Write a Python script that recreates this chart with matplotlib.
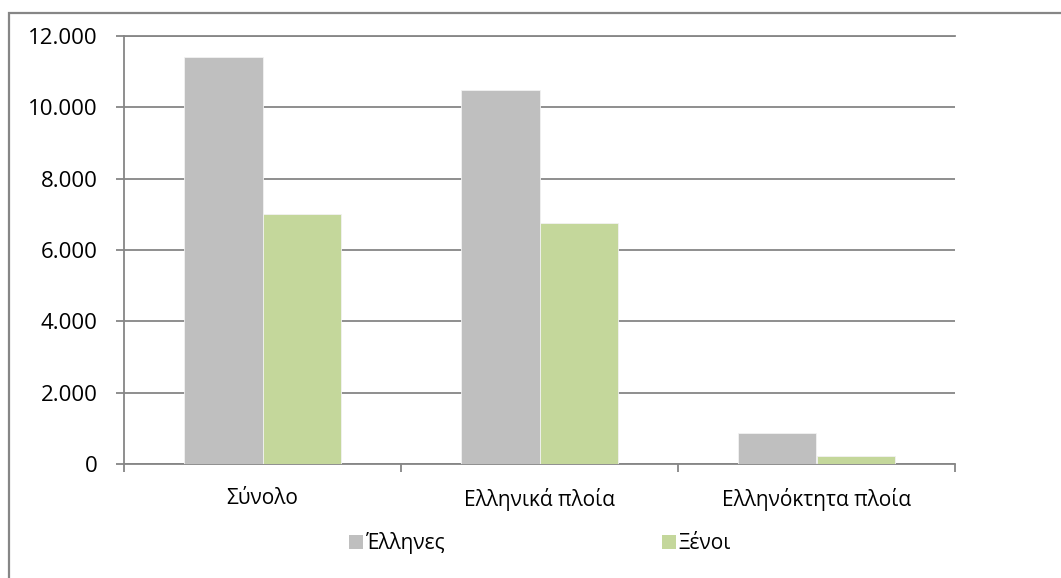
import matplotlib
matplotlib.use('Agg')
import matplotlib.pyplot as plt
from matplotlib.patches import Patch, Rectangle
import numpy as np

plt.rcParams['font.family'] = ['Open Sans', 'DejaVu Sans']

categories = ['Σύνολο', 'Ελληνικά πλοία', 'Ελληνόκτητα πλοία']
greeks = [11400, 10500, 860]
foreigners = [7000, 6750, 225]
series_names = ['Έλληνες', 'Ξένοι']
y_ticks = [0, 2000, 4000, 6000, 8000, 10000, 12000]

grey = '#BFBFBF'
green = '#C4D79B'
line_col = '#868686'
fs = 15

fig = plt.figure(figsize=(10.61, 5.78), dpi=100)
ax = fig.add_axes([124 / 1061, 114 / 578, 831 / 1061, 428 / 578])

x = np.arange(len(categories))
w = 0.285
ax.bar(x - w / 2, greeks, width=w, color=grey, edgecolor='#F2F2F2', linewidth=0.6, zorder=3)
ax.bar(x + w / 2, foreigners, width=w, color=green, edgecolor='#F2F2F2', linewidth=0.6, zorder=3)

ax.set_xlim(-0.5, len(categories) - 0.5)
ax.set_ylim(0, 12000)

# Gridlines and axes in Excel grey
ax.set_yticks(y_ticks)
ax.set_yticklabels([f'{v:,}'.replace(',', '.') for v in y_ticks], fontsize=16)
ax.yaxis.grid(True, color=line_col, linewidth=1.3, zorder=0)
ax.set_axisbelow(True)
ax.tick_params(axis='y', length=6, width=1.3, color=line_col, pad=13, direction='out')

ax.set_xticks(x)
ax.set_xticklabels(categories, fontsize=fs)
ax.set_xticks(np.arange(-0.5, len(categories)), minor=True)
ax.tick_params(axis='x', which='major', length=0, pad=17)
ax.tick_params(axis='x', which='minor', length=6, width=1.3, color=line_col, direction='out')

for side in ['left', 'bottom', 'top']:
    ax.spines[side].set_color(line_col)
    ax.spines[side].set_linewidth(1.3)
ax.spines['right'].set_visible(False)

# Legend at the bottom
handles = [Patch(facecolor=grey), Patch(facecolor=green)]
fig.legend(handles, series_names, loc='center', bbox_to_anchor=(0.509, 1 - 543 / 578), ncol=2,
           frameon=False, fontsize=fs, handlelength=0.65, handleheight=0.65,
           handletextpad=0.15, columnspacing=10.4)

# Outer chart border (cropped on the right and bottom)
fig.add_artist(Rectangle((8.5 / 1061, -0.5), 2, 1.5 - 12.5 / 578, transform=fig.transFigure,
                         fill=False, edgecolor=line_col, linewidth=1.6))

fig.savefig('out.png', dpi=100)
